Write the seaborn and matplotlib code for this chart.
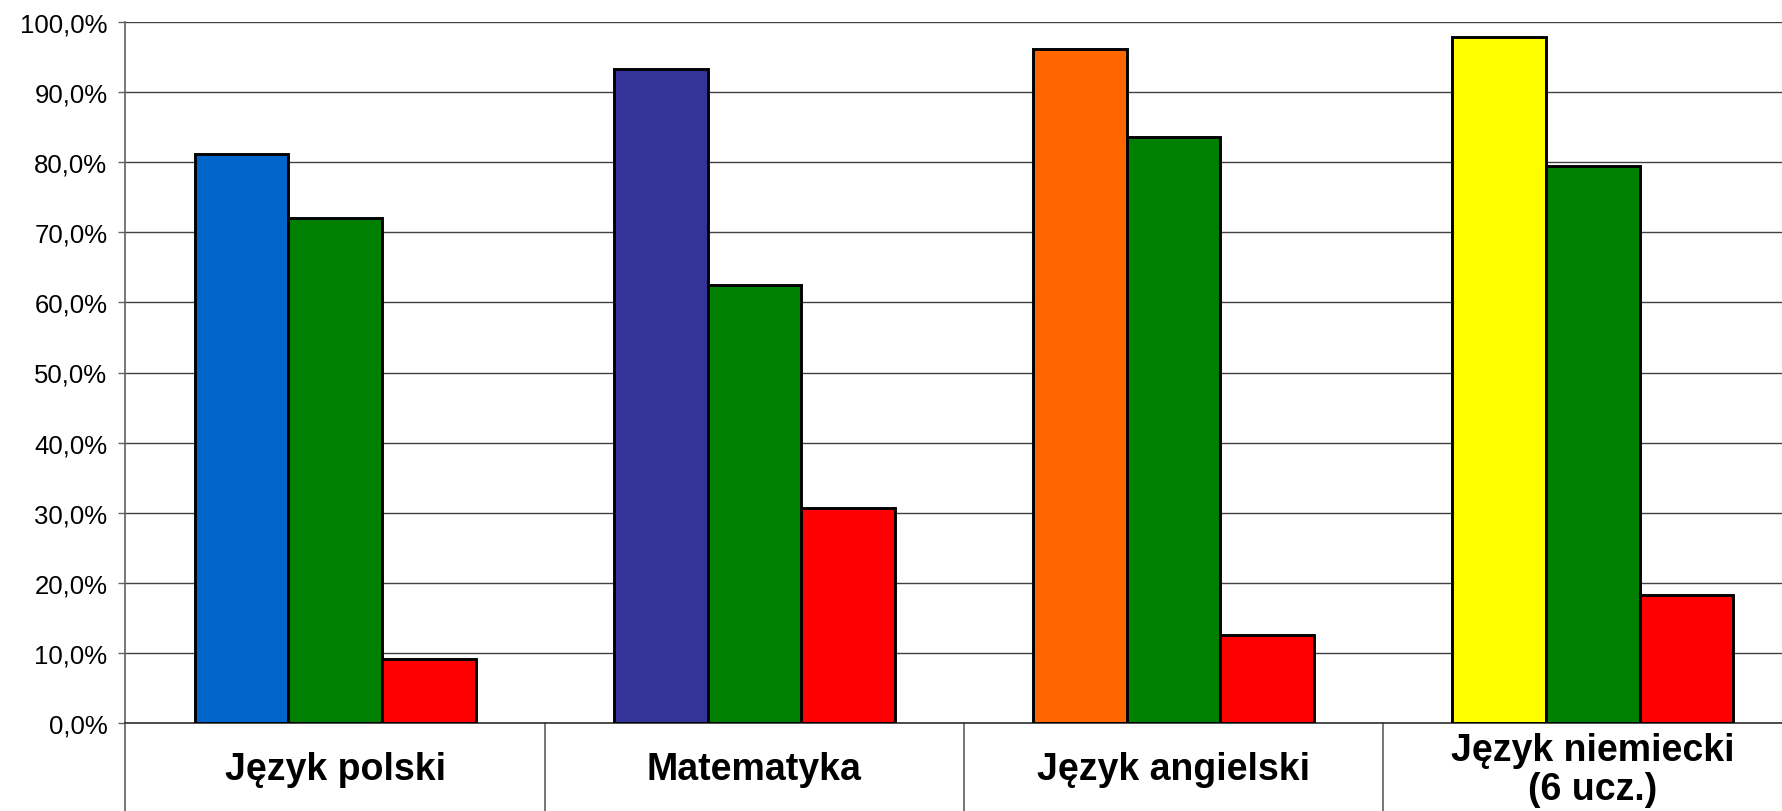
import matplotlib
matplotlib.use('Agg')
import matplotlib.pyplot as plt
from matplotlib.ticker import FuncFormatter
import seaborn as sns
import pandas as pd

# data
subjects = ['Język polski', 'Matematyka', 'Język angielski', 'Język niemiecki\n(6 ucz.)']
series = ['s1', 's2', 's3']
s1_values = [81.2, 93.3, 96.2, 97.9]
s2_values = [72.0, 62.5, 83.6, 79.5]
s3_values = [9.1, 30.7, 12.6, 18.3]

first_colors = ['#0066CC', '#333399', '#FF6600', '#FFFF00']
series_colors = ['#0066CC', '#008000', '#FF0000']

sns.set_style('white')
plt.rcParams['font.family'] = ['Liberation Sans', 'DejaVu Sans']
plt.rcParams['text.color'] = 'black'
plt.rcParams['ytick.labelcolor'] = 'black'

rows = []
for vals, s in zip([s1_values, s2_values, s3_values], series):
    for subj, v in zip(subjects, vals):
        rows.append({'subject': subj, 'series': s, 'value': v})
df = pd.DataFrame(rows)

fig = plt.figure(figsize=(17.83, 8.12), dpi=100)
ax = fig.add_axes([125.5 / 1783, 88 / 812, 1677 / 1783, 701 / 812])

sns.barplot(data=df, x='subject', y='value', hue='series', order=subjects,
            hue_order=series, palette=series_colors, saturation=1, width=0.67,
            edgecolor='black', linewidth=2.1, legend=False, ax=ax, zorder=3)

# first bar of every group has its own colour
for patch, col in zip(ax.containers[0].patches, first_colors):
    patch.set_facecolor(col)

ax.set_xlim(-0.5, len(subjects) - 0.5)
ax.set_ylim(0, 100)
ax.set_yticks(range(0, 101, 10))
ax.yaxis.set_major_formatter(FuncFormatter(lambda v, p: f"{v:.1f}%".replace('.', ',')))
ax.tick_params(axis='y', labelsize=18.5, length=5, width=1, color='#606060',
               labelcolor='black', direction='out', pad=8, left=True)
ax.tick_params(axis='x', length=0, labelbottom=False)
ax.set_xlabel('')
ax.set_ylabel('')

ax.yaxis.grid(True, color='#404040', linewidth=1)
ax.set_axisbelow(True)
for side in ['top', 'right']:
    ax.spines[side].set_visible(False)
ax.spines['bottom'].set_color('#303030')
ax.spines['bottom'].set_linewidth(1.2)
ax.spines['left'].set_color('#606060')
ax.spines['left'].set_linewidth(1.2)

# category separators below the axis
for b in range(len(subjects)):
    ax.plot([b - 0.5, b - 0.5], [0, -0.13], color='#606060', linewidth=1.2,
            transform=ax.get_xaxis_transform(), clip_on=False)

for i, subj in enumerate(subjects):
    ax.text(i, -0.066, subj, transform=ax.get_xaxis_transform(), ha='center',
            va='center', fontsize=27, fontweight='bold', color='black',
            linespacing=1.1)

fig.savefig('out.png', dpi=100)
